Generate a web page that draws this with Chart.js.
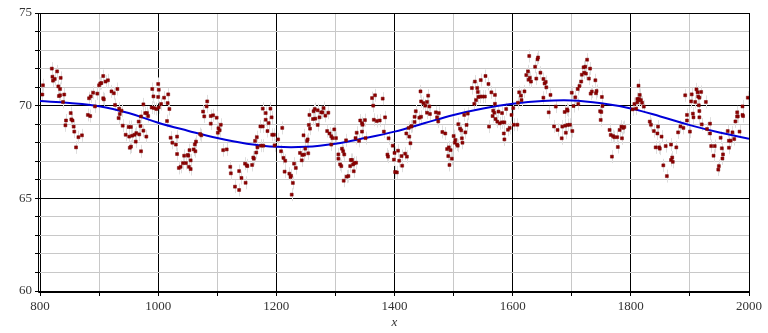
<!DOCTYPE html>
<html>
<head>
<meta charset="utf-8">
<script src="https://cdn.jsdelivr.net/npm/chart.js@4/dist/chart.umd.min.js"></script>
<style>
html,body{margin:0;padding:0;background:#fff;}
#wrap{width:768px;height:333px;position:relative;}
</style>
</head>
<body>
<div id="wrap"><canvas id="c"></canvas></div>
<script>
// Observed points (year, value)
const obsX = [
805,804,820,829,821,825,822,835,831,834,832,834,841,839,852,844,853,855,843,857,858,865,871,861,881,885,883,886,890,897,893,902,900,904,907,911,915,907,908,921,925,931,927,934,938,933,935,940,945,950,954,951,956,960,963,968,962,954,952,971,967,970,975,980,971,978,983,981,975,989,990,992,993,997,1000,1001,1000,
1010,1005,1001,1017,1016,1019,1015,1021,1024,1032,1030,1032,1044,1050,1051,1038,1035,1042,1047,1052,1055,1055,1053,1060,1063,1062,1064,1073,1071,1076,1078,1083,1082,1089,1089,1093,1099,1102,1104,1106,1101,1110,1116,1122,1123,1130,1137,1137,1141,1148,1147,1151,1150,1159,1162,1161,1164,1167,1166,1168,1173,1174,1177,1178,1177,1182,1182,1185,1187,1190,1192,1193,1196,1197,1203,
1210,1208,1212,1215,1214,1222,1224,1225,1228,1226,1230,1233,1240,1243,1244,1247,1246,1249,1252,1253,1254,1255,1257,1256,1262,1266,1263,1265,1270,1270,1273,1276,1278,1280,1283,1288,1286,1290,1293,1295,1298,1301,1293,1305,1305,1308,1310,1311,1313,1315,1314,1319,1322,1318,1326,1328,1325,1330,1332,1335,1331,1334,1336,1340,1342,1345,1346,1345,1350,1351,1362,1367,1364,1365,1370,1375,1380,1384,1382,1390,1397,1388,1389,1400,1399,1404,1401,
1406,1408,1412,1413,1418,1421,1420,1425,1427,1424,1428,1429,1434,1434,1436,1442,1445,1444,1445,1449,1452,1455,1459,1457,1455,1460,1470,1475,1472,1474,1481,1486,1489,1492,1495,1491,1497,1493,1500,1503,1502,1506,1507,1508,1511,1513,1514,1515,1520,1522,1518,1524,1531,1536,1540,1541,1542,1546,1545,1538,1535,1549,1553,1554,1559,1564,1570,1570,1567,1566,1569,1576,1571,1574,1578,1582,1582,1586,1589,1560,1585,1586,1592,1595,1598,1601,1602,
1609,1611,1614,1615,1620,1608,1628,1623,1626,1627,1629,1631,1638,1640,1642,1643,1647,1652,1654,1657,1656,1652,1664,1661,1670,1673,1676,1684,1683,1690,1688,1692,1693,1689,1693,1697,1701,1700,1703,1706,1710,1713,1711,1716,1717,1720,1726,1723,1721,1724,1729,1731,1732,1734,1740,1742,1741,1751,1748,1750,1749,1752,1764,1766,1770,1772,1777,1781,1784,1785,1787,1789,1778,1768,1803,1806,1809,1811,1813,
1813,1811,1814,1815,1817,1819,1822,1832,1834,1839,1846,1845,1852,1842,1848,1849,1859,1868,1877,1855,1861,1870,1868,1871,1880,1884,1889,1892,1900,1895,1895,1902,1903,1905,1906,1909,1911,1913,1915,1916,1916,1919,1914,1916,1920,1927,1929,1934,1934,1936,1942,1940,1948,1949,1952,1954,1955,1956,1964,1966,1969,1966,1972,1975,1977,1980,1981,1980,1984,1989,1989,1990,1998
];
const obsY = [
71.1,70.6,72.0,71.85,71.56,71.44,71.35,71.5,71.04,70.9,70.52,70.56,70.6,70.2,69.6,69.2,69.26,69.2,68.94,68.87,68.6,68.3,68.4,67.75,69.5,69.44,70.4,70.5,70.7,70.65,69.96,71.2,71.1,71.22,71.6,71.3,71.37,70.4,70.34,70.77,70.67,70.9,70.04,69.84,69.73,69.33,69.55,68.92,68.43,68.85,68.85,68.33,68.38,68.43,68.52,68.45,68.06,67.79,67.73,67.54,69.14,68.9,68.65,68.33,69.42,69.6,69.44,69.6,70.07,69.9,70.9,70.5,69.87,69.82,71.17,70.86,70.47,
70.43,70.09,69.91,70.61,70.14,69.82,69.17,68.27,68.0,68.33,67.9,67.39,67.3,67.34,67.3,66.7,66.64,66.9,66.9,66.7,66.58,67.05,67.6,67.64,67.54,67.91,68.06,68.4,68.47,69.68,69.42,70.23,69.96,69.03,69.44,69.48,69.35,68.78,68.67,68.97,68.54,67.6,67.64,66.7,66.35,65.63,65.45,66.47,66.1,65.84,66.87,66.74,66.78,66.8,67.14,67.2,68.1,68.3,67.47,67.75,68.88,67.84,68.88,67.84,69.84,69.24,69.6,68.63,69.06,69.84,69.37,68.43,68.43,67.86,68.18,
68.8,67.54,67.18,67.03,66.44,66.33,66.15,66.22,65.83,65.2,66.87,66.64,67.45,67.05,67.34,67.36,68.4,67.68,68.09,68.18,67.43,68.96,68.76,69.5,69.28,69.3,69.7,69.82,69.75,68.96,69.37,69.64,69.64,69.87,69.46,69.62,68.63,68.5,68.35,68.25,68.72,68.25,67.9,67.37,67.14,66.83,66.74,67.68,67.54,67.37,65.95,66.17,66.2,68.13,67.07,67.07,66.74,66.83,66.9,66.92,66.46,68.25,68.54,68.1,69.2,69.05,68.97,68.6,69.22,68.25,70.41,70.56,70.0,69.24,69.17,69.2,70.38,69.37,68.6,68.24,67.84,67.36,67.25,67.45,67.09,66.4,66.42,
67.57,67.03,67.28,66.76,67.41,67.25,68.5,68.33,67.97,68.8,68.87,68.9,69.12,69.4,69.7,69.35,69.4,70.77,70.23,70.14,70.0,70.2,69.96,70.54,69.62,69.55,69.64,69.6,69.37,69.15,68.58,68.5,67.66,67.75,67.6,67.28,67.14,66.8,68.36,68.15,68.0,67.9,67.84,69.0,68.76,68.67,68.24,68.0,68.56,68.96,69.5,69.57,70.95,71.3,70.95,70.74,70.47,71.38,70.49,70.3,70.1,70.49,70.49,71.6,71.17,70.72,70.58,70.1,69.73,69.44,69.62,69.68,69.28,69.14,69.05,69.6,69.1,69.1,69.82,68.87,68.5,68.18,68.7,68.8,69.5,69.87,68.97,
70.16,70.72,70.54,70.3,70.77,68.97,72.68,71.65,71.85,71.4,71.5,71.3,72.1,71.46,72.5,72.6,71.78,71.44,71.2,70.99,71.28,70.43,70.58,69.64,68.88,69.95,68.69,68.87,68.24,68.54,69.66,69.8,69.73,68.92,68.96,68.97,68.63,70.7,69.98,70.45,70.9,71.06,70.09,71.3,71.67,72.07,72.48,72.1,71.78,71.73,71.46,72.0,70.65,70.76,71.37,70.79,70.67,70.47,69.7,69.66,69.23,69.98,68.69,68.42,68.36,68.3,68.3,68.69,68.87,68.24,68.8,68.85,67.77,67.25,69.8,70.09,69.84,70.36,71.08,
70.3,70.18,70.36,70.58,70.3,70.16,69.95,69.14,68.97,68.63,68.87,68.5,68.33,67.75,67.75,67.68,67.82,67.9,67.75,66.78,66.2,67.2,67.07,66.97,68.56,68.88,68.8,70.56,68.6,69.2,69.5,70.23,70.61,69.57,69.37,70.2,70.88,70.72,70.02,69.71,69.37,70.74,70.49,70.43,68.99,70.2,68.74,68.5,69.03,67.82,67.82,67.3,66.55,66.74,68.27,67.7,67.15,67.37,68.63,68.11,68.11,67.73,68.56,68.2,69.15,69.64,69.42,69.42,68.6,69.96,69.5,69.44,70.43
];
// Smooth fitted curve
const fitX = [800,850,900,950,1000,1050,1100,1150,1200,1250,1300,1350,1400,1450,1500,1550,1600,1650,1700,1750,1800,1850,1900,1950,2000];
const fitY = [70.25,70.15,69.97,69.6,69.08,68.65,68.25,67.95,67.78,67.78,67.95,68.25,68.6,69.05,69.5,69.85,70.1,70.25,70.28,70.13,69.85,69.42,68.95,68.55,68.22];
const errHalf = 0.35;
const xTicks = {min:800, max:2000, step:100, labelEvery:200};
const yTicks = {min:60, max:75, step:1, labelEvery:5};

const scatterData = obsX.map((x,i)=>({x:x, y:obsY[i]}));
const fitData = fitX.map((x,i)=>({x:x, y:fitY[i]}));

const errPlugin = {
  id:'errbars',
  beforeDatasetsDraw(chart){
    const ctx = chart.ctx, ys = chart.scales.y, xs = chart.scales.x;
    ctx.save();
    ctx.strokeStyle = '#dedede';
    ctx.lineWidth = 1;
    ctx.beginPath();
    scatterData.forEach(p=>{
      const px = Math.round(xs.getPixelForValue(p.x)) + 0.5;
      ctx.moveTo(px, ys.getPixelForValue(p.y - errHalf));
      ctx.lineTo(px, ys.getPixelForValue(p.y + errHalf));
    });
    ctx.stroke();
    ctx.restore();
  },
  afterDraw(chart){
    const ctx = chart.ctx, a = chart.chartArea;
    ctx.save();
    ctx.strokeStyle = '#000';
    ctx.lineWidth = 1;
    ctx.beginPath();
    const lx = Math.round(a.left) - 1.5;
    const by = Math.round(a.bottom) + 1.5;
    ctx.moveTo(lx, Math.round(a.top)); ctx.lineTo(lx, by);
    ctx.moveTo(lx, by); ctx.lineTo(Math.round(a.right)+0.5, by);
    ctx.stroke();
    ctx.restore();
  }
};

const font = {family:'"Times New Roman", "Liberation Serif", serif', size:13};

new Chart(document.getElementById('c'), {
  type:'scatter',
  data:{
    datasets:[
      {type:'line', data:fitData, borderColor:'#0000d8', borderWidth:2, pointRadius:0, tension:0.4, fill:false, order:1},
      {type:'scatter', data:scatterData, pointStyle:'rect', pointRadius:2.1, backgroundColor:'#8b0000', borderColor:'#7a0000', borderWidth:0.5, order:0}
    ]
  },
  options:{
    responsive:true, maintainAspectRatio:false, animation:false,
    layout:{padding:{top:13, right:19, left:0, bottom:0}},
    plugins:{legend:{display:false}, tooltip:{enabled:false}},
    scales:{
      x:{
        type:'linear', min:xTicks.min, max:xTicks.max,
        afterFit(s){ s.height = 42; },
        border:{display:false},
        grid:{
          color:c=> (c.tick && c.tick.value % xTicks.labelEvery === 0) ? '#000' : '#c8c8c8',
          lineWidth:1, tickLength:5, tickColor:'#000', drawTicks:true
        },
        ticks:{
          stepSize:xTicks.step, autoSkip:false, maxRotation:0, padding:3, color:'#333', font:font,
          callback:v=> v % xTicks.labelEvery === 0 ? String(v) : ''
        },
        title:{display:true, text:'x', color:'#333', font:{family:font.family, size:13, style:'italic'}, padding:{top:0,bottom:3}}
      },
      y:{
        type:'linear', min:yTicks.min, max:yTicks.max,
        afterFit(s){ s.width = 40; },
        border:{display:false},
        grid:{
          color:c=> (c.tick && c.tick.value % yTicks.labelEvery === 0) ? '#000' : '#c8c8c8',
          lineWidth:1, tickLength:5, tickColor:'#000', drawTicks:true
        },
        ticks:{
          stepSize:yTicks.step, autoSkip:false, padding:3, color:'#333', font:font,
          callback:v=> v % yTicks.labelEvery === 0 ? String(v) : ''
        }
      }
    }
  },
  plugins:[errPlugin]
});
</script>
</body>
</html>
